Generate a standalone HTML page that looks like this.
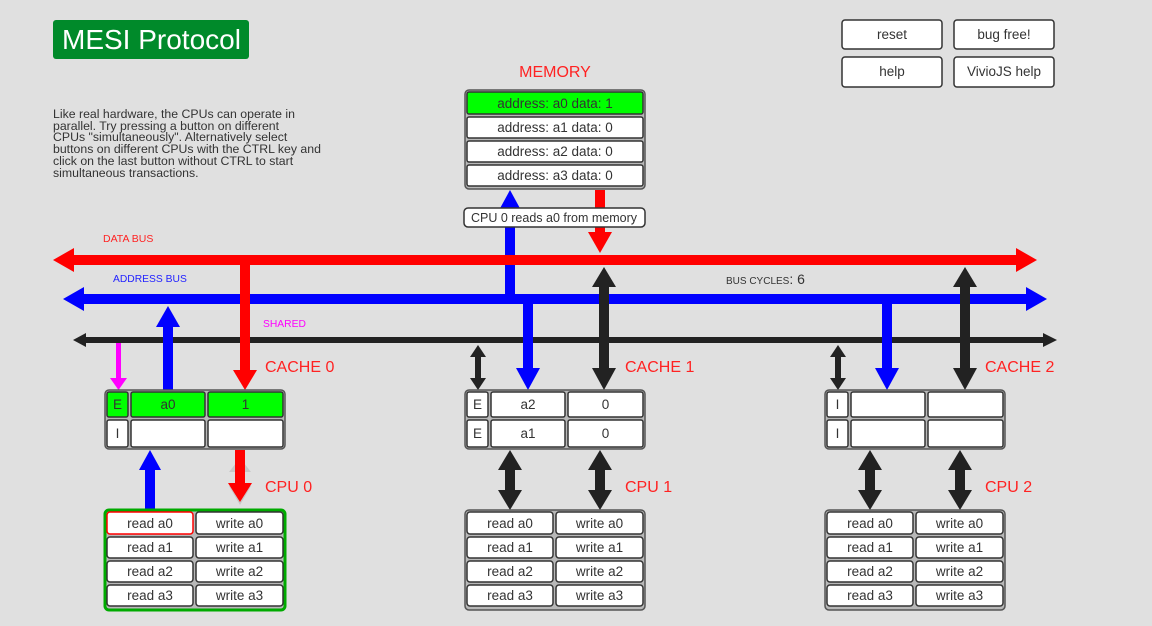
<!DOCTYPE html>
<html><head><meta charset="utf-8"><style>
html,body{margin:0;padding:0;background:#e0e0e0;}
svg{display:block;font-family:"Liberation Sans","DejaVu Sans",sans-serif;}
.c{fill:#fff;stroke:#333;stroke-width:1.5;}
.o{fill:#b8b8b8;stroke:#555;stroke-width:1.5;}
.t{font-size:13.5px;fill:#333;text-anchor:middle;}
.r{fill:#f22;font-size:16px;}
.k{fill:#222;}
</style></head><body>
<svg width="1152" height="626" viewBox="0 0 1152 626">
<rect width="1152" height="626" fill="#e0e0e0"/>
<rect x="53" y="20" width="196" height="39" rx="3" fill="#008a2a"/>
<text x="62" y="49" font-size="28" fill="#fff">MESI Protocol</text>
<g font-size="12.3" fill="#333">
<text x="53" y="118">Like real hardware, the CPUs can operate in</text>
<text x="53" y="130">parallel. Try pressing a button on different</text>
<text x="53" y="141">CPUs "simultaneously". Alternatively select</text>
<text x="53" y="153">buttons on different CPUs with the CTRL key and</text>
<text x="53" y="165">click on the last button without CTRL to start</text>
<text x="53" y="177">simultaneous transactions.</text>
</g>
<g>
<rect x="842" y="20" width="100" height="29" rx="3" class="c"/><text x="892" y="39" class="t">reset</text>
<rect x="954" y="20" width="100" height="29" rx="3" class="c"/><text x="1004" y="39" class="t">bug free!</text>
<rect x="842" y="57" width="100" height="30" rx="3" class="c"/><text x="892" y="76" class="t">help</text>
<rect x="954" y="57" width="100" height="30" rx="3" class="c"/><text x="1004" y="76" class="t">VivioJS help</text>
</g>
<!-- memory -->
<text x="555" y="77" class="r" text-anchor="middle">MEMORY</text>
<rect x="465" y="90" width="180" height="99" rx="4" class="o"/>
<rect x="467" y="92" width="176" height="22" rx="2" class="c" style="fill:#00ff00"/><text x="555" y="108" class="t">address: a0 data: 1</text>
<rect x="467" y="117" width="176" height="21" rx="2" class="c"/><text x="555" y="132" class="t">address: a1 data: 0</text>
<rect x="467" y="141" width="176" height="21" rx="2" class="c"/><text x="555" y="156" class="t">address: a2 data: 0</text>
<rect x="467" y="165" width="176" height="21" rx="2" class="c"/><text x="555" y="180" class="t">address: a3 data: 0</text>
<!-- memory arrows -->
<rect x="505" y="212" width="10" height="87" fill="#00f"/><polygon points="498,212 522,212 510,190" fill="#00f"/>
<rect x="595" y="190" width="10" height="42" fill="#f00"/><polygon points="588,232 612,232 600,253" fill="#f00"/>
<rect x="464" y="208" width="181" height="19" rx="4" class="c"/><text x="554" y="222" class="t" style="font-size:12.5px">CPU 0 reads a0 from memory</text>
<!-- buses -->
<text x="103" y="242" font-size="10.5" fill="#f22">DATA BUS</text>
<text x="113" y="282" font-size="10.3" fill="#22f">ADDRESS BUS</text>
<text x="263" y="327" font-size="10.3" fill="#f0f">SHARED</text>
<text x="726" y="284" font-size="10" fill="#333">BUS CYCLES<tspan font-size="14">: 6</tspan></text>
<polygon points="53,260 74,248 74,272" fill="#f00"/><rect x="74" y="255" width="942" height="10" fill="#f00"/><polygon points="1016,248 1037,260 1016,272" fill="#f00"/>
<polygon points="63,299 84,287 84,311" fill="#00f"/><rect x="84" y="294" width="942" height="10" fill="#00f"/><polygon points="1026,287 1047,299 1026,311" fill="#00f"/>
<polygon points="73,340 86,333 86,347" class="k"/><rect x="86" y="337" width="957" height="6" class="k"/><polygon points="1043,333 1057,340 1043,347" class="k"/>
<!-- cache0 arrows -->
<rect x="240" y="265" width="10" height="105" fill="#f00"/><polygon points="233,370 257,370 245,390" fill="#f00"/>
<rect x="116" y="343" width="5" height="35" fill="#f0f"/><polygon points="110,378 127,378 118.5,390" fill="#f0f"/>
<rect x="163" y="327" width="10" height="63" fill="#00f"/><polygon points="156,327 180,327 168,306" fill="#00f"/>
<rect x="145" y="470" width="10" height="40" fill="#00f"/><polygon points="139,470 161,470 150,450" fill="#00f"/>
<polygon points="229,472 251,472 240,458" fill="#c8c8c8"/><polygon points="229,486 251,486 240,505" fill="#c8c8c8"/>
<rect x="235" y="450" width="10" height="33" fill="#f00"/><polygon points="228,483 252,483 240,502" fill="#f00"/>
<!-- cache1 arrows -->
<rect x="523" y="304" width="10" height="64" fill="#00f"/><polygon points="516,368 540,368 528,390" fill="#00f"/>
<rect x="475" y="357" width="6" height="21" class="k"/><polygon points="470,357 486,357 478,345" class="k"/><polygon points="470,378 486,378 478,390" class="k"/>
<rect x="599" y="287" width="10" height="81" class="k"/><polygon points="592,287 616,287 604,267" class="k"/><polygon points="592,368 616,368 604,390" class="k"/>
<rect x="505" y="470" width="10" height="20" class="k"/><polygon points="498,470 522,470 510,450" class="k"/><polygon points="498,490 522,490 510,510" class="k"/>
<rect x="595" y="470" width="10" height="20" class="k"/><polygon points="588,470 612,470 600,450" class="k"/><polygon points="588,490 612,490 600,510" class="k"/>
<!-- cache2 arrows -->
<rect x="882" y="304" width="10" height="64" fill="#00f"/><polygon points="875,368 899,368 887,390" fill="#00f"/>
<rect x="835" y="357" width="6" height="21" class="k"/><polygon points="830,357 846,357 838,345" class="k"/><polygon points="830,378 846,378 838,390" class="k"/>
<rect x="960" y="287" width="10" height="81" class="k"/><polygon points="953,287 977,287 965,267" class="k"/><polygon points="953,368 977,368 965,390" class="k"/>
<rect x="865" y="470" width="10" height="20" class="k"/><polygon points="858,470 882,470 870,450" class="k"/><polygon points="858,490 882,490 870,510" class="k"/>
<rect x="955" y="470" width="10" height="20" class="k"/><polygon points="948,470 972,470 960,450" class="k"/><polygon points="948,490 972,490 960,510" class="k"/>
<!-- labels -->
<text x="265" y="372" class="r">CACHE 0</text><text x="625" y="372" class="r">CACHE 1</text><text x="985" y="372" class="r">CACHE 2</text>
<text x="265" y="492" class="r">CPU 0</text><text x="625" y="492" class="r">CPU 1</text><text x="985" y="492" class="r">CPU 2</text>
<!-- cache0 -->
<rect x="105" y="390" width="180" height="59" rx="4" class="o"/>
<rect x="107" y="392" width="21" height="25" rx="2" class="c" style="fill:#0f0"/><text x="117.5" y="409" class="t">E</text>
<rect x="131" y="392" width="74" height="25" rx="2" class="c" style="fill:#0f0"/><text x="168" y="409" class="t">a0</text>
<rect x="208" y="392" width="75" height="25" rx="2" class="c" style="fill:#0f0"/><text x="245.5" y="409" class="t">1</text>
<rect x="107" y="420" width="21" height="27" rx="2" class="c"/><text x="117.5" y="438" class="t">I</text>
<rect x="131" y="420" width="74" height="27" rx="2" class="c"/>
<rect x="208" y="420" width="75" height="27" rx="2" class="c"/>
<!-- cache1 -->
<rect x="465" y="390" width="180" height="59" rx="4" class="o"/>
<rect x="467" y="392" width="21" height="25" rx="2" class="c"/><text x="477.5" y="409" class="t">E</text>
<rect x="491" y="392" width="74" height="25" rx="2" class="c"/><text x="528" y="409" class="t">a2</text>
<rect x="568" y="392" width="75" height="25" rx="2" class="c"/><text x="605.5" y="409" class="t">0</text>
<rect x="467" y="420" width="21" height="27" rx="2" class="c"/><text x="477.5" y="438" class="t">E</text>
<rect x="491" y="420" width="74" height="27" rx="2" class="c"/><text x="528" y="438" class="t">a1</text>
<rect x="568" y="420" width="75" height="27" rx="2" class="c"/><text x="605.5" y="438" class="t">0</text>
<!-- cache2 -->
<rect x="825" y="390" width="180" height="59" rx="4" class="o"/>
<rect x="827" y="392" width="21" height="25" rx="2" class="c"/><text x="837.5" y="409" class="t">I</text>
<rect x="851" y="392" width="74" height="25" rx="2" class="c"/>
<rect x="928" y="392" width="75" height="25" rx="2" class="c"/>
<rect x="827" y="420" width="21" height="27" rx="2" class="c"/><text x="837.5" y="438" class="t">I</text>
<rect x="851" y="420" width="74" height="27" rx="2" class="c"/>
<rect x="928" y="420" width="75" height="27" rx="2" class="c"/>
<!-- cpu0 -->
<rect x="105" y="510" width="180" height="100" rx="4" fill="#b8b8b8" stroke="#0a0" stroke-width="3"/>
<rect x="107" y="512" width="86" height="22" rx="3" class="c" style="stroke:#f00"/><text x="150" y="528" class="t">read a0</text>
<rect x="196" y="512" width="87" height="22" rx="3" class="c"/><text x="239.5" y="528" class="t">write a0</text>
<rect x="107" y="537" width="86" height="21" rx="3" class="c"/><text x="150" y="552" class="t">read a1</text>
<rect x="196" y="537" width="87" height="21" rx="3" class="c"/><text x="239.5" y="552" class="t">write a1</text>
<rect x="107" y="561" width="86" height="21" rx="3" class="c"/><text x="150" y="576" class="t">read a2</text>
<rect x="196" y="561" width="87" height="21" rx="3" class="c"/><text x="239.5" y="576" class="t">write a2</text>
<rect x="107" y="585" width="86" height="21" rx="3" class="c"/><text x="150" y="600" class="t">read a3</text>
<rect x="196" y="585" width="87" height="21" rx="3" class="c"/><text x="239.5" y="600" class="t">write a3</text>
<!-- cpu1 -->
<rect x="465" y="510" width="180" height="100" rx="4" class="o"/>
<rect x="467" y="512" width="86" height="22" rx="3" class="c"/><text x="510" y="528" class="t">read a0</text>
<rect x="556" y="512" width="87" height="22" rx="3" class="c"/><text x="599.5" y="528" class="t">write a0</text>
<rect x="467" y="537" width="86" height="21" rx="3" class="c"/><text x="510" y="552" class="t">read a1</text>
<rect x="556" y="537" width="87" height="21" rx="3" class="c"/><text x="599.5" y="552" class="t">write a1</text>
<rect x="467" y="561" width="86" height="21" rx="3" class="c"/><text x="510" y="576" class="t">read a2</text>
<rect x="556" y="561" width="87" height="21" rx="3" class="c"/><text x="599.5" y="576" class="t">write a2</text>
<rect x="467" y="585" width="86" height="21" rx="3" class="c"/><text x="510" y="600" class="t">read a3</text>
<rect x="556" y="585" width="87" height="21" rx="3" class="c"/><text x="599.5" y="600" class="t">write a3</text>
<!-- cpu2 -->
<rect x="825" y="510" width="180" height="100" rx="4" class="o"/>
<rect x="827" y="512" width="86" height="22" rx="3" class="c"/><text x="870" y="528" class="t">read a0</text>
<rect x="916" y="512" width="87" height="22" rx="3" class="c"/><text x="959.5" y="528" class="t">write a0</text>
<rect x="827" y="537" width="86" height="21" rx="3" class="c"/><text x="870" y="552" class="t">read a1</text>
<rect x="916" y="537" width="87" height="21" rx="3" class="c"/><text x="959.5" y="552" class="t">write a1</text>
<rect x="827" y="561" width="86" height="21" rx="3" class="c"/><text x="870" y="576" class="t">read a2</text>
<rect x="916" y="561" width="87" height="21" rx="3" class="c"/><text x="959.5" y="576" class="t">write a2</text>
<rect x="827" y="585" width="86" height="21" rx="3" class="c"/><text x="870" y="600" class="t">read a3</text>
<rect x="916" y="585" width="87" height="21" rx="3" class="c"/><text x="959.5" y="600" class="t">write a3</text>
</svg>
</body></html>
